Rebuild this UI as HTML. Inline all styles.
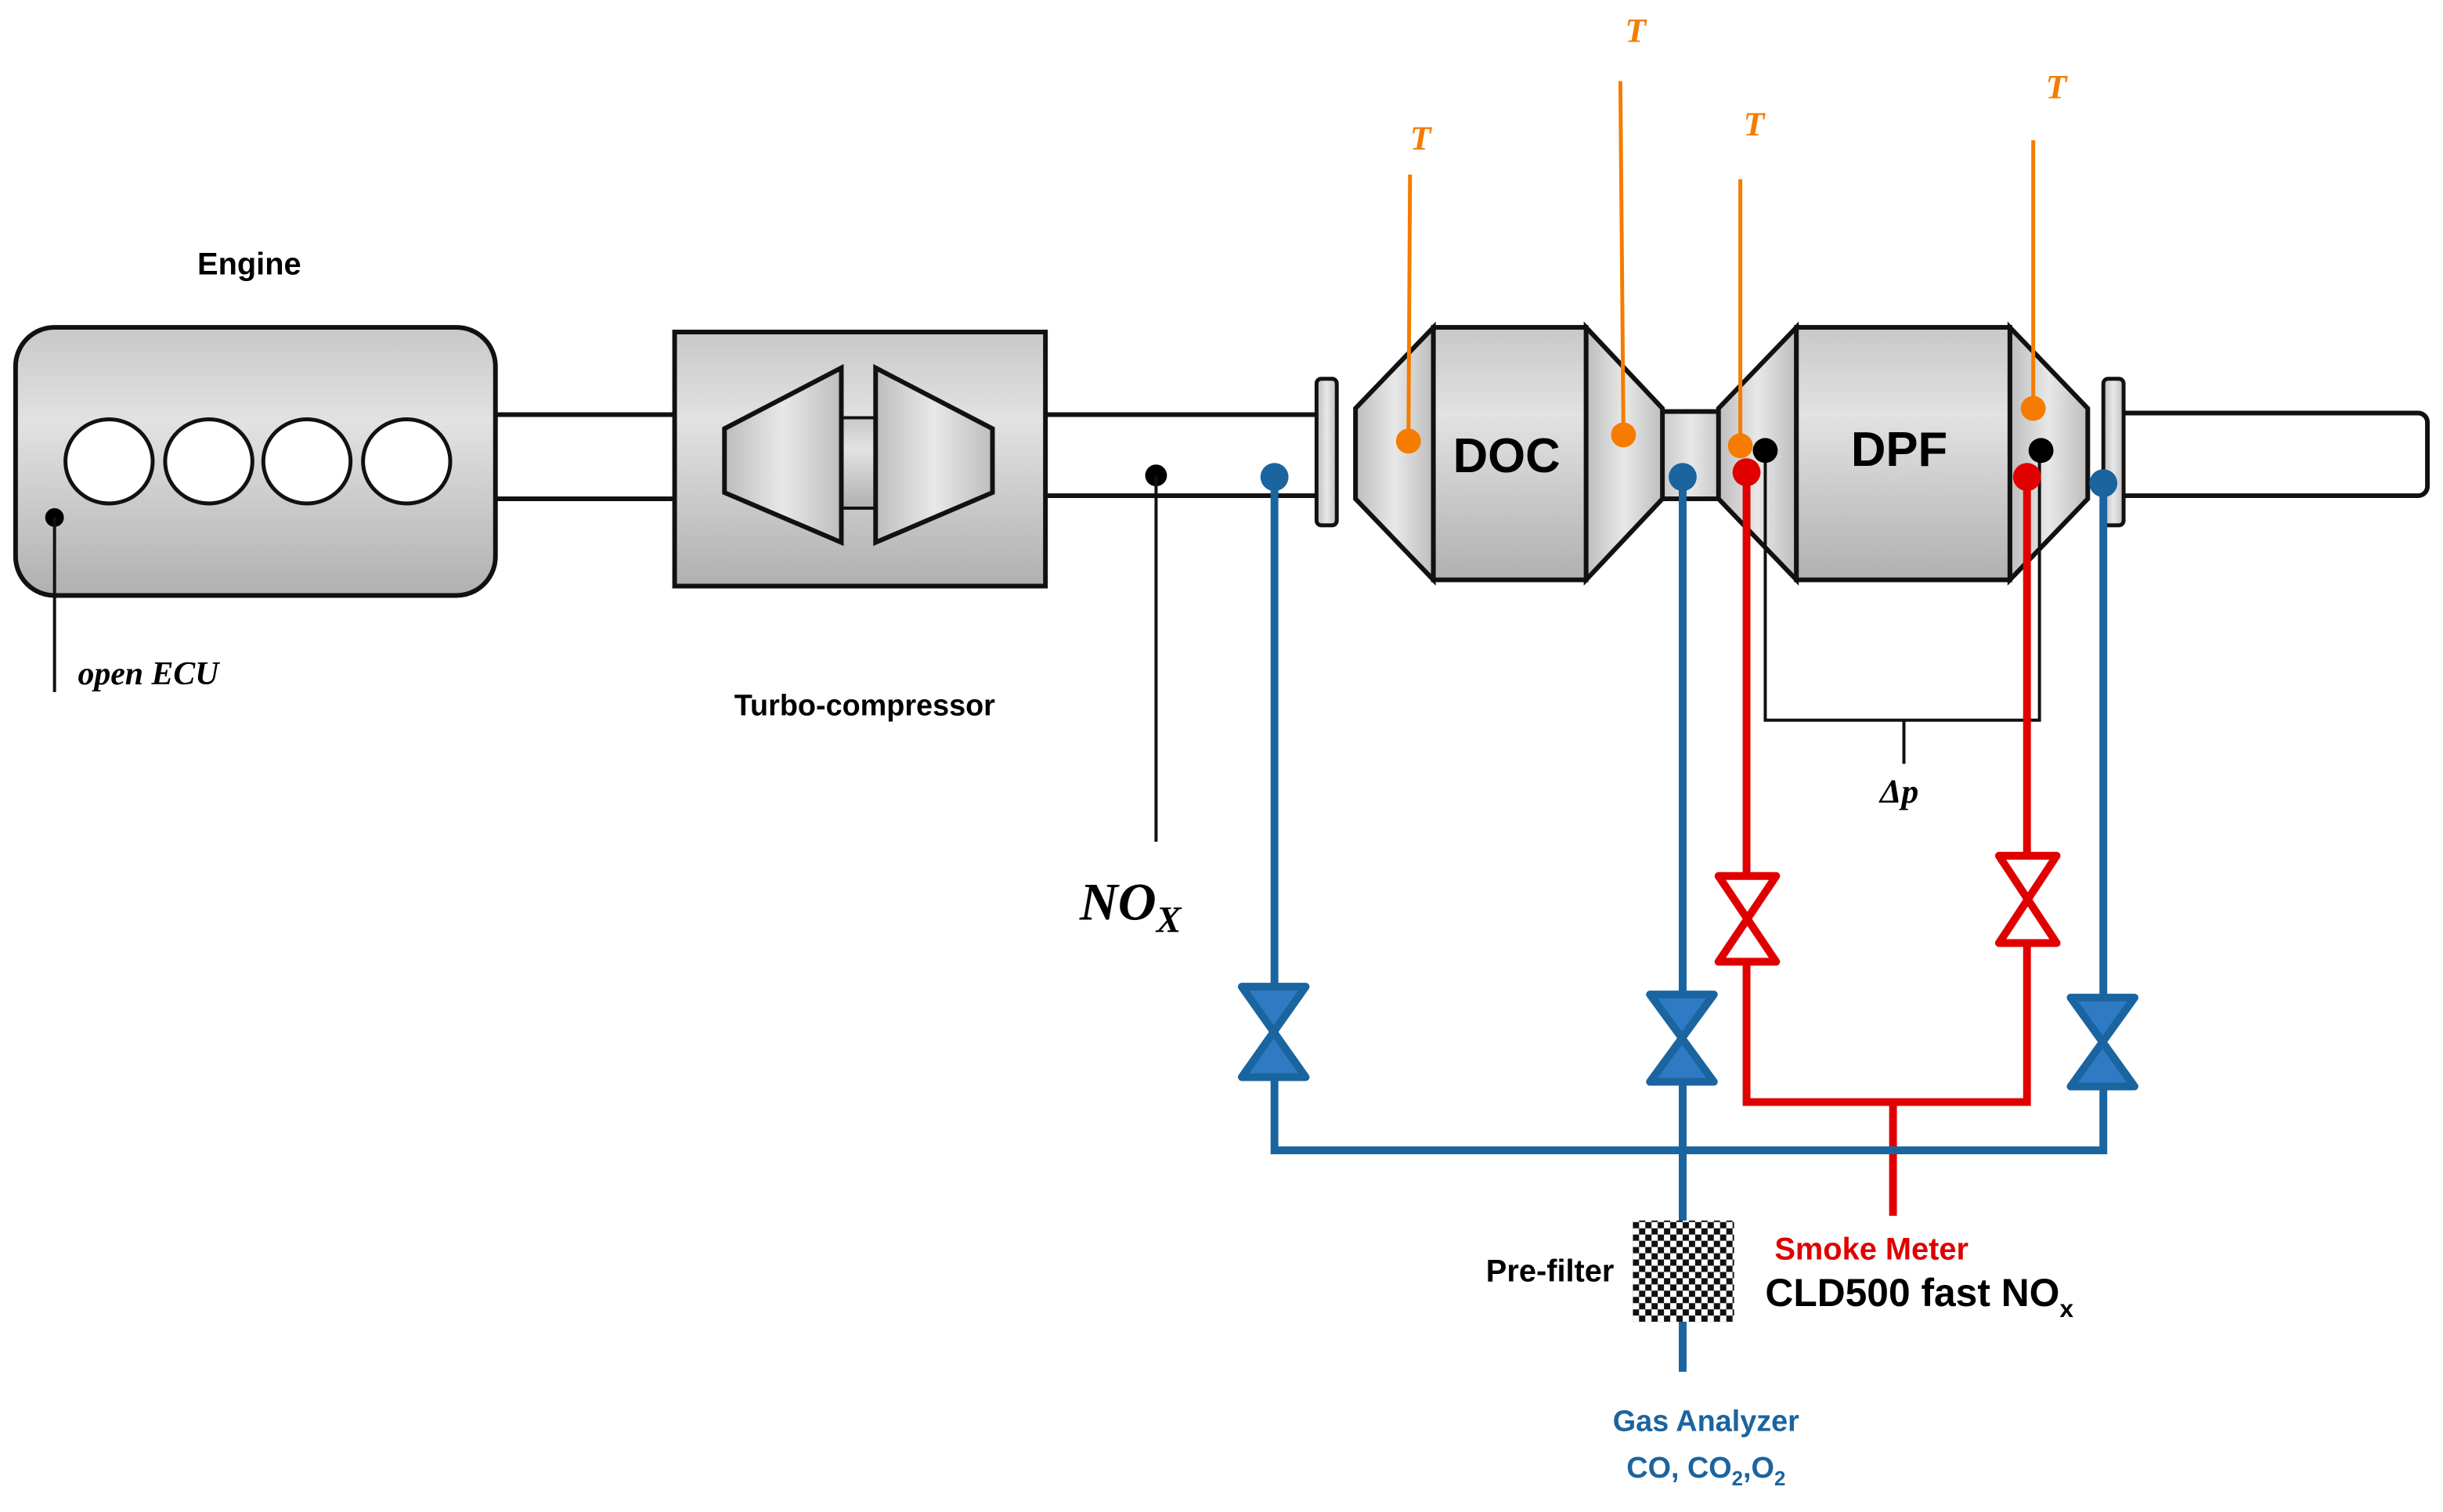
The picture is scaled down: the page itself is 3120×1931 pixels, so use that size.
<!DOCTYPE html>
<html><head><meta charset="utf-8"><style>
html,body{margin:0;padding:0;background:#fff;}
svg{display:block;}
</style></head><body>
<svg width="3120" height="1931" viewBox="0 0 1568 970" preserveAspectRatio="none" xmlns="http://www.w3.org/2000/svg">
<defs>
<linearGradient id="gv" x1="0" y1="0" x2="0" y2="1">
<stop offset="0" stop-color="#c8c8c8"/><stop offset="0.35" stop-color="#e2e2e2"/><stop offset="1" stop-color="#b0b0b0"/>
</linearGradient>
<linearGradient id="gh" x1="0" y1="0" x2="1" y2="0">
<stop offset="0" stop-color="#bdbdbd"/><stop offset="0.5" stop-color="#e8e8e8"/><stop offset="1" stop-color="#bdbdbd"/>
</linearGradient>
<pattern id="chk" width="8" height="8" patternUnits="userSpaceOnUse">
<rect width="8" height="8" fill="#fff"/><rect width="4" height="4" fill="#111"/><rect x="4" y="4" width="4" height="4" fill="#111"/>
</pattern>
</defs>
<g font-family="'Liberation Sans',sans-serif">
<!-- pipes -->
<rect x="310" y="266" width="130" height="54" fill="#fff" stroke="#111" stroke-width="3"/>
<rect x="665" y="266" width="185" height="52" fill="#fff" stroke="#111" stroke-width="3"/>
<rect x="1060" y="264" width="50" height="56" fill="url(#gh)" stroke="#111" stroke-width="3"/>
<rect x="1355" y="265" width="203" height="53" rx="6" fill="#fff" stroke="#111" stroke-width="3"/>
<!-- engine -->
<rect x="10" y="210" width="308" height="172" rx="25" fill="url(#gv)" stroke="#111" stroke-width="3"/>
<g fill="#fff" stroke="#111" stroke-width="2.5">
<ellipse cx="70" cy="296" rx="28" ry="27"/><ellipse cx="134" cy="296" rx="28" ry="27"/>
<ellipse cx="197" cy="296" rx="28" ry="27"/><ellipse cx="261" cy="296" rx="28" ry="27"/>
</g>
<circle cx="35" cy="332" r="6" fill="#000"/>
<line x1="35" y1="332" x2="35" y2="444" stroke="#111" stroke-width="2"/>
<text x="160" y="176" font-size="20" font-weight="bold" text-anchor="middle">Engine</text>
<text x="50" y="439" font-size="21" font-weight="bold" font-style="italic" font-family="'Liberation Serif',serif">open ECU</text>
<!-- turbo -->
<rect x="433" y="213" width="238" height="163" fill="url(#gv)" stroke="#111" stroke-width="3"/>
<rect x="540" y="268" width="22" height="58" fill="url(#gv)" stroke="#111" stroke-width="2"/>
<polygon points="465,275 540,236 540,348 465,316" fill="url(#gh)" stroke="#111" stroke-width="3"/>
<polygon points="562,236 637,275 637,316 562,348" fill="url(#gh)" stroke="#111" stroke-width="3"/>
<text x="555" y="459" font-size="19" font-weight="bold" text-anchor="middle">Turbo-compressor</text>
<!-- NOx -->
<circle cx="742" cy="305" r="7" fill="#000"/>
<line x1="742" y1="305" x2="742" y2="540" stroke="#111" stroke-width="2"/>
<text x="693" y="590" font-size="34" font-weight="bold" font-style="italic" font-family="'Liberation Serif',serif">NO<tspan font-size="24" dy="8">X</tspan></text>
<!-- flanges -->
<rect x="845" y="243" width="13" height="94" rx="3" fill="url(#gh)" stroke="#111" stroke-width="2.5"/>
<rect x="1350" y="243" width="13" height="94" rx="3" fill="url(#gh)" stroke="#111" stroke-width="2.5"/>
<!-- DOC -->
<polygon points="870,262 920,210 920,372 870,320" fill="url(#gh)" stroke="#111" stroke-width="3"/>
<polygon points="1018,210 1067,262 1067,320 1018,372" fill="url(#gh)" stroke="#111" stroke-width="3"/>
<rect x="920" y="210" width="98" height="162" fill="url(#gv)" stroke="#111" stroke-width="3"/>
<text x="967" y="303" font-size="31" font-weight="bold" text-anchor="middle">DOC</text>
<!-- DPF -->
<polygon points="1103,262 1153,210 1153,372 1103,320" fill="url(#gh)" stroke="#111" stroke-width="3"/>
<polygon points="1290,210 1340,262 1340,320 1290,372" fill="url(#gh)" stroke="#111" stroke-width="3"/>
<rect x="1153" y="210" width="137" height="162" fill="url(#gv)" stroke="#111" stroke-width="3"/>
<text x="1219" y="299" font-size="31" font-weight="bold" text-anchor="middle">DPF</text>
<!-- temperatures -->
<g stroke="#f57c00" stroke-width="2.5">
<line x1="905" y1="112" x2="904" y2="283"/><line x1="1040" y1="52" x2="1042" y2="279"/>
<line x1="1117" y1="115" x2="1117" y2="286"/><line x1="1305" y1="90" x2="1305" y2="262"/>
</g>
<g fill="#f57c00"><circle cx="904" cy="283" r="8"/><circle cx="1042" cy="279" r="8"/><circle cx="1117" cy="286" r="8"/><circle cx="1305" cy="262" r="8"/></g>
<g fill="#f57c00" font-size="22" font-weight="bold" font-style="italic" font-family="'Liberation Serif',serif">
<text x="905" y="96">T</text><text x="1043" y="27">T</text><text x="1119" y="87">T</text><text x="1313" y="63">T</text>
</g>
<!-- delta p -->
<polyline points="1133,289 1133,462 1309,462 1309,289" fill="none" stroke="#111" stroke-width="2"/>
<line x1="1222" y1="462" x2="1222" y2="490" stroke="#111" stroke-width="2"/>
<circle cx="1133" cy="289" r="8" fill="#000"/><circle cx="1310" cy="289" r="8" fill="#000"/>
<text x="1219" y="515" font-size="22" font-weight="bold" font-style="italic" text-anchor="middle" font-family="'Liberation Serif',serif">Δp</text>
<!-- red lines -->
<g stroke="#e00000" stroke-width="5" fill="none">
<polyline points="1121,303 1121,707 1301,707 1301,306"/>
<line x1="1215" y1="707" x2="1215" y2="780"/>
</g>
<g fill="#fff" stroke="#e00000" stroke-width="5" stroke-linejoin="round">
<polygon points="1103,562 1140,562 1103,617 1140,617"/>
<polygon points="1283,549 1320,549 1283,605 1320,605"/>
</g>
<circle cx="1121" cy="303" r="9" fill="#e00000"/><circle cx="1301" cy="306" r="9" fill="#e00000"/>
<!-- blue lines -->
<g stroke="#1a64a0" stroke-width="5" fill="none">
<polyline points="818,306 818,738 1350,738 1350,310"/>
<line x1="1080" y1="306" x2="1080" y2="880"/>
</g>
<g fill="#2e7bc4" stroke="#1a64a0" stroke-width="5" stroke-linejoin="round">
<polygon points="797,633 838,633 797,691 838,691"/>
<polygon points="1059,638 1100,638 1059,694 1100,694"/>
<polygon points="1329,640 1370,640 1329,697 1370,697"/>
</g>
<circle cx="818" cy="306" r="9" fill="#1a64a0"/><circle cx="1080" cy="306" r="9" fill="#1a64a0"/><circle cx="1350" cy="310" r="9" fill="#1a64a0"/>
<!-- prefilter -->
<rect x="1048" y="783" width="65" height="65" fill="url(#chk)"/>
<text x="1036" y="822" font-size="20" font-weight="bold" text-anchor="end">Pre-filter</text>
<text x="1139" y="808" font-size="20" font-weight="bold" fill="#e00000">Smoke Meter</text>
<text x="1133" y="838" font-size="25" font-weight="bold" fill="#000">CLD500 fast NO<tspan font-size="16" dy="7">x</tspan></text>
<text x="1095" y="918" font-size="19" font-weight="bold" fill="#1a64a0" text-anchor="middle">Gas Analyzer</text>
<text x="1095" y="948" font-size="19" font-weight="bold" fill="#1a64a0" text-anchor="middle">CO, CO<tspan font-size="13" dy="5">2</tspan><tspan dy="-5">,O</tspan><tspan font-size="13" dy="5">2</tspan></text>
</g>
</svg>
</body></html>
